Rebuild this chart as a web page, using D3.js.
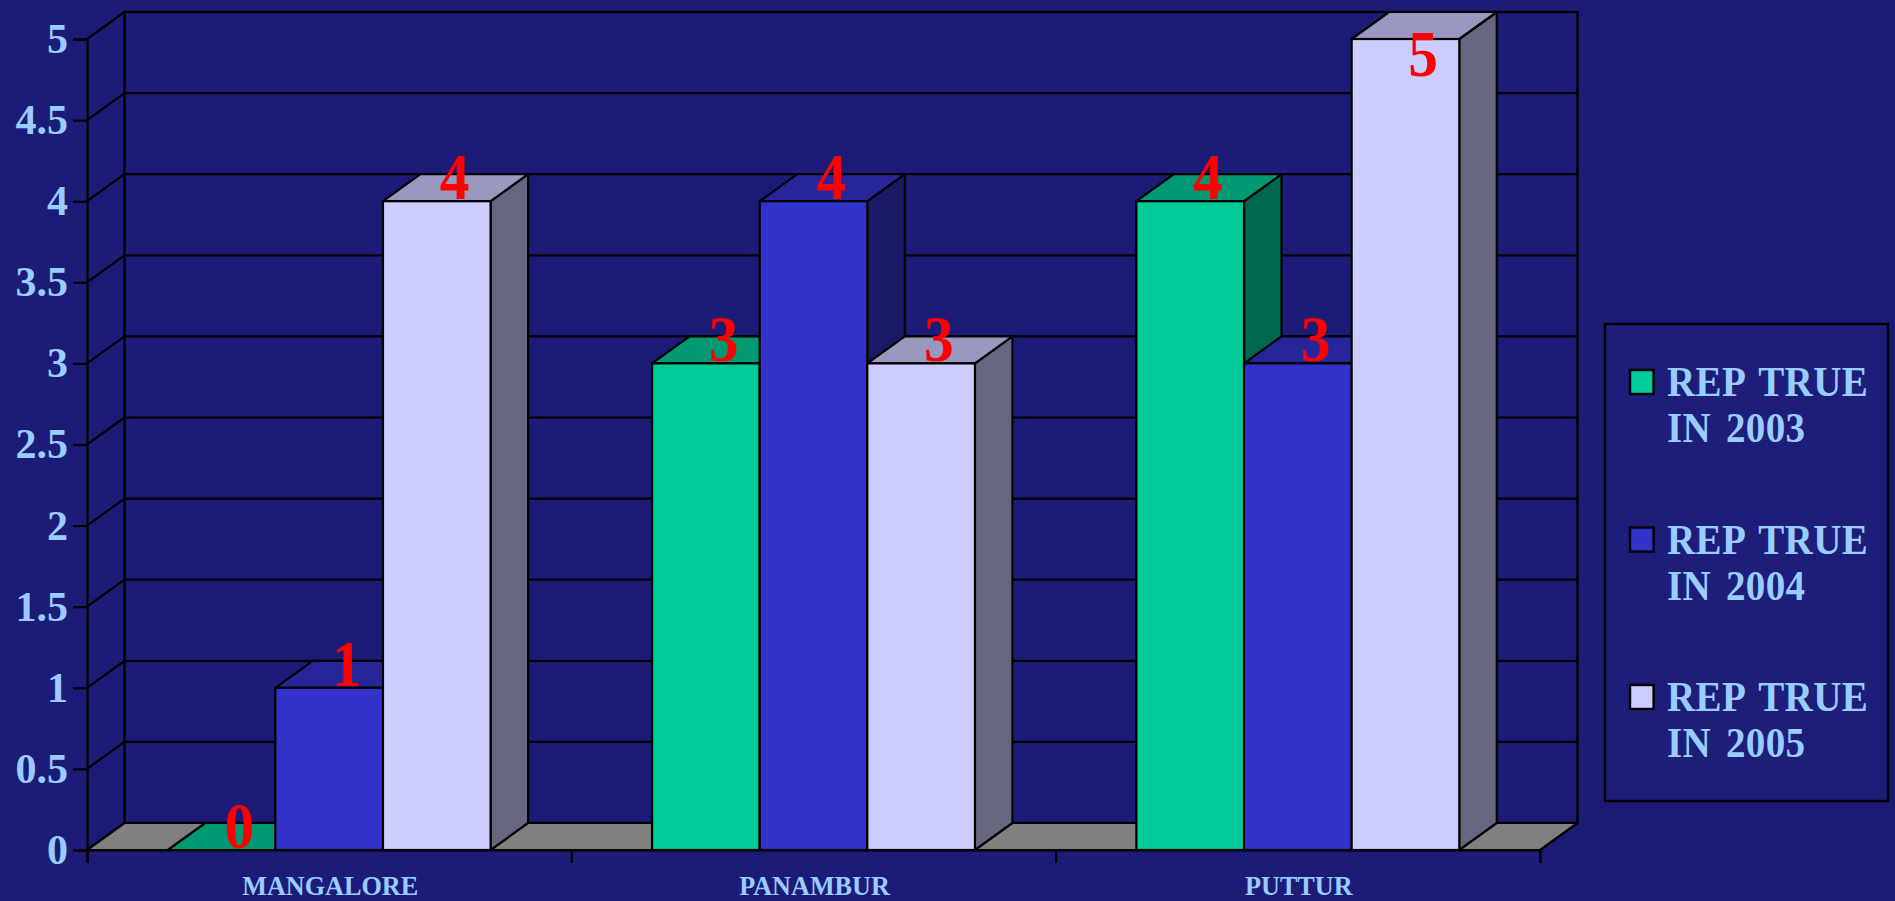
<!DOCTYPE html>
<html>
<head>
<meta charset="utf-8">
<title>REP TRUE</title>
<script src="https://cdn.jsdelivr.net/npm/d3@7/dist/d3.min.js"></script>
<style>
  html, body { margin: 0; padding: 0; background: #1c1c78; overflow: hidden; }
  svg { display: block; }
  text { font-family: "Liberation Serif", serif; font-weight: bold; }
</style>
</head>
<body>
<svg width="1895" height="901"></svg>
<script>
// Chart values
var categories = ["MANGALORE", "PANAMBUR", "PUTTUR"];
var seriesNames = ["REP TRUE IN 2003", "REP TRUE IN 2004", "REP TRUE IN 2005"];
var rep2003 = [0, 3, 4];
var rep2004 = [1, 4, 3];
var rep2005 = [4, 3, 5];
var yTicks = [0, 0.5, 1, 1.5, 2, 2.5, 3, 3.5, 4, 4.5, 5];

var seriesValues = [rep2003, rep2004, rep2005];

// Colours: front, top, side for each series
var frontColors = ["#00cc99", "#3333cc", "#ccccff"];
var topColors = ["#009973", "#26269a", "#9999bf"];
var sideColors = ["#00664d", "#1a1a66", "#666680"];

var black = "#000";
var textColor = "#99ccff";
var lineWidth = 2.2;

var svg = d3.select("svg");

// Front plane of the plot, and how far the 3D box goes back
var plotLeft = 87, plotRight = 1540, plotBottom = 850, plotTop = 39;
var depthX = 37.5, depthY = -27;

var y = d3.scaleLinear().domain([0, 5]).range([plotBottom, plotTop]);
var x0 = d3.scaleBand().domain(categories).range([plotLeft, plotRight])
           .paddingInner(1 / 3).paddingOuter(1 / 6);
var x1 = d3.scaleBand().domain(d3.range(seriesNames.length)).range([0, x0.bandwidth()]);
var edge = d3.scaleLinear().domain([0, categories.length]).range([plotLeft, plotRight]);

function poly(g, pts, fill, width) {
    return g.append("polygon")
            .attr("points", pts.map(function(p) { return p.join(","); }).join(" "))
            .attr("fill", fill)
            .attr("stroke", black)
            .attr("stroke-width", width)
            .attr("stroke-linejoin", "round");
}

// The reference type is a little narrower than the font, so squeeze it sideways
function squeezed(g, px, py, sx) {
    return g.append("text")
            .attr("transform", "translate(" + px + "," + py + ") scale(" + sx + ",1)");
}

// Walls and floor
var walls = svg.append("g");

poly(walls, [[plotLeft + depthX, plotTop + depthY], [plotRight + depthX, plotTop + depthY],
             [plotRight + depthX, plotBottom + depthY], [plotLeft + depthX, plotBottom + depthY]], "none", 2.4);

yTicks.forEach(function(t) {
    walls.append("line")
         .attr("x1", plotLeft).attr("y1", y(t))
         .attr("x2", plotLeft + depthX).attr("y2", y(t) + depthY)
         .attr("stroke", black).attr("stroke-width", lineWidth);
    walls.append("line")
         .attr("x1", plotLeft + depthX).attr("y1", y(t) + depthY)
         .attr("x2", plotRight + depthX).attr("y2", y(t) + depthY)
         .attr("stroke", black).attr("stroke-width", lineWidth);
});

poly(walls, [[plotLeft, plotBottom], [plotRight, plotBottom],
             [plotRight + depthX, plotBottom + depthY], [plotLeft + depthX, plotBottom + depthY]], "#808080", lineWidth);

// Bars, drawn left to right so each one covers the side of the last
var bars = svg.append("g");

categories.forEach(function(cat, c) {
    seriesValues.forEach(function(values, s) {
        var xa = x0(cat) + x1(s);
        var xb = xa + x1.bandwidth();
        var yv = y(values[c]);

        poly(bars, [[xb, yv], [xb + depthX, yv + depthY],
                    [xb + depthX, plotBottom + depthY], [xb, plotBottom]], sideColors[s], lineWidth);
        poly(bars, [[xa, yv], [xb, yv],
                    [xb + depthX, yv + depthY], [xa + depthX, yv + depthY]], topColors[s], lineWidth);
        if (values[c] > 0) {
            bars.append("rect")
                .attr("x", xa).attr("y", yv)
                .attr("width", xb - xa).attr("height", plotBottom - yv)
                .attr("fill", frontColors[s])
                .attr("stroke", black).attr("stroke-width", lineWidth);
        }
    });
});

// Axes
var yAxis = d3.axisLeft(y).tickValues(yTicks).tickSize(14).tickPadding(5)
              .tickFormat(function(d) { return String(d); });
var yAxisG = svg.append("g").attr("transform", "translate(" + plotLeft + ",0)").call(yAxis);
yAxisG.selectAll("text").attr("fill", textColor).attr("font-size", 42);

var xAxis = d3.axisBottom(edge).tickValues(d3.range(categories.length + 1))
              .tickSize(13).tickFormat("");
var xAxisG = svg.append("g").attr("transform", "translate(0," + plotBottom + ")").call(xAxis);

svg.selectAll(".domain, .tick line")
   .attr("stroke", black).attr("stroke-width", lineWidth);

var catLabels = svg.append("g");
categories.forEach(function(cat) {
    squeezed(catLabels, x0(cat) + x0.bandwidth() / 2 + 1, 895, 0.97)
        .attr("text-anchor", "middle")
        .attr("font-size", 27)
        .attr("fill", textColor)
        .text(cat);
});

// Value labels, pushed down at the top so they stay on the page area
var labelMinBaseline = 76;
var labels = svg.append("g");

categories.forEach(function(cat, c) {
    seriesValues.forEach(function(values, s) {
        squeezed(labels,
                 x0(cat) + x1(s) + x1.bandwidth() / 2 + depthX / 2 - 1,
                 Math.max(y(values[c]) - 2, labelMinBaseline), 0.9)
            .attr("text-anchor", "middle")
            .attr("font-size", 66)
            .attr("fill", "#ff0000")
            .text(values[c]);
    });
});

// Legend
var legend = svg.append("g");

legend.append("rect")
      .attr("x", 1605).attr("y", 324)
      .attr("width", 283).attr("height", 477)
      .attr("fill", "#1e1e7a")
      .attr("stroke", black).attr("stroke-width", 2.4);

var legendRow = d3.scaleLinear().domain([0, 2]).range([370, 685]);

seriesNames.forEach(function(name, s) {
    var rowY = legendRow(s);
    legend.append("rect")
          .attr("x", 1630).attr("y", rowY)
          .attr("width", 23.6).attr("height", 24)
          .attr("fill", frontColors[s])
          .attr("stroke", black).attr("stroke-width", 2.4);
    var words = name.split(" ");
    [words.slice(0, 2).join(" "), words.slice(2).join(" ")].forEach(function(line, i) {
        squeezed(legend, 1667, rowY + 26 + i * 46, 0.93)
            .attr("font-size", 42)
            .attr("letter-spacing", 0.4)
            .attr("word-spacing", 5)
            .attr("fill", textColor)
            .text(line);
    });
});
</script>
</body>
</html>
